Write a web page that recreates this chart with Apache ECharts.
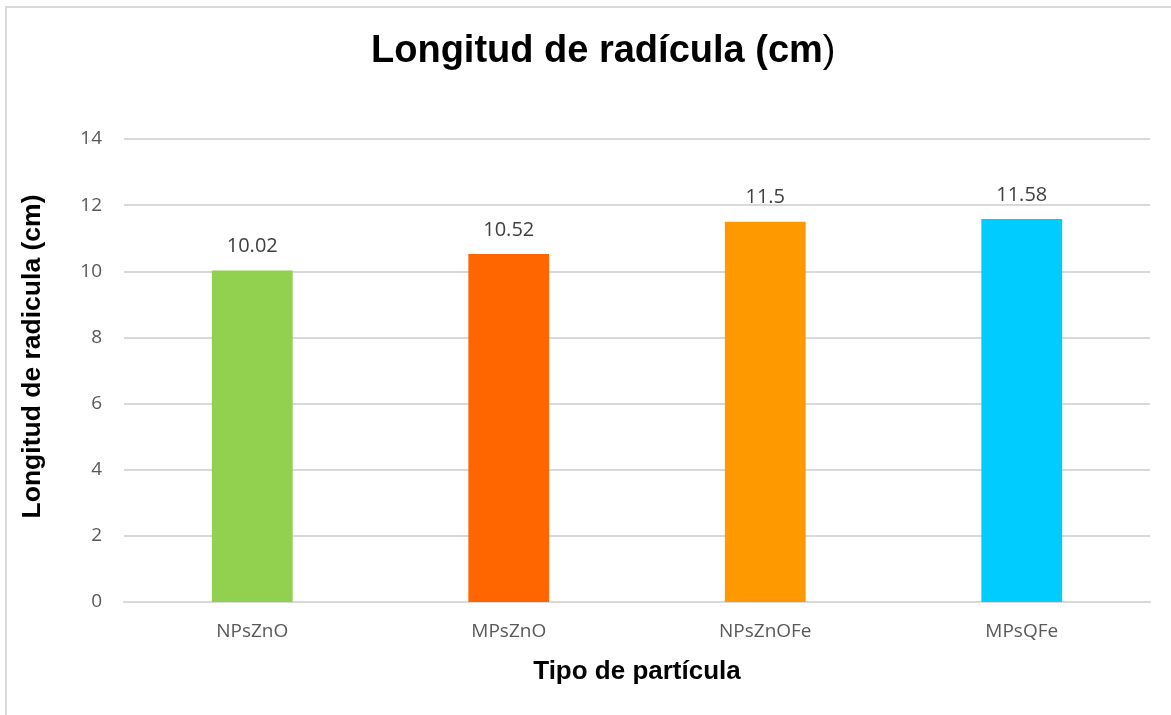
<!DOCTYPE html>
<html lang="es">
<head>
    <meta charset="UTF-8">
    <title>Longitud de radícula</title>
    <script src="https://cdn.jsdelivr.net/npm/echarts@6/dist/echarts.min.js"></script>
    <style>
        html, body {
            margin: 0;
            padding: 0;
            background: #fff;
            overflow: hidden;
        }

        .frame {
            position: absolute;
            left: 5px;
            top: 6px;
            width: 1200px;
            height: 760px;
            border: 2px solid #d9d9d9;
        }

        #chart {
            position: absolute;
            left: 0;
            top: 0;
            width: 1171px;
            height: 715px;
        }
    </style>
</head>
<body>
<div class="frame"></div>
<div id="chart"></div>
<script>
    // datos
    var categorias = ['NPsZnO', 'MPsZnO', 'NPsZnOFe', 'MPsQFe']
    var longitudes = [10.02, 10.52, 11.5, 11.58]
    var colores = ['#92D050', '#FF6600', '#FF9900', '#00CCFF']

    var chart = echarts.init(document.getElementById('chart'))
    var option = {
        title: {
            text: '{b|Longitud de radícula (cm}{n|)}',
            left: 366,
            top: 28,
            textStyle: {
                rich: {
                    b: {fontFamily: 'Liberation Sans', fontWeight: 'bold', fontSize: 38, color: '#000'},
                    n: {fontFamily: 'Liberation Sans', fontWeight: 'normal', fontSize: 38, color: '#000'}
                }
            }
        },
        grid: {
            left: 124,
            right: 21,
            top: 139,
            bottom: 113,
            containLabel: false
        },
        xAxis: {
            type: 'category',
            data: categorias,
            name: 'Tipo de partícula',
            nameLocation: 'middle',
            nameGap: 57,
            nameTextStyle: {fontFamily: 'Liberation Sans', fontWeight: 'bold', fontSize: 26, color: '#000'},
            axisLine: {lineStyle: {color: '#d9d9d9', width: 2}},
            axisTick: {show: false},
            axisLabel: {fontFamily: 'Open Sans', fontSize: 19, color: '#595959', margin: 20}
        },
        yAxis: {
            type: 'value',
            min: 0,
            max: 14,
            interval: 2,
            name: 'Longitud de radicula (cm)',
            nameLocation: 'middle',
            nameGap: 78,
            nameTextStyle: {
                fontFamily: 'Liberation Sans', fontWeight: 'bold', fontSize: 26.5, color: '#000',
                padding: [0, 0, 0, 28]
            },
            axisLine: {show: false},
            axisTick: {show: false},
            splitLine: {lineStyle: {color: '#d9d9d9', width: 2}},
            axisLabel: {fontFamily: 'Open Sans', fontSize: 19, color: '#595959', margin: 22}
        },
        series: [{
            type: 'bar',
            barWidth: '31.5%',
            data: longitudes.map((v, i) => ({value: v, itemStyle: {color: colores[i]}})),
            label: {
                show: true,
                position: 'top',
                distance: 14,
                fontFamily: 'Open Sans',
                fontSize: 20,
                color: '#404040'
            }
        }]
    }
    chart.setOption(option)
</script>
</body>
</html>
